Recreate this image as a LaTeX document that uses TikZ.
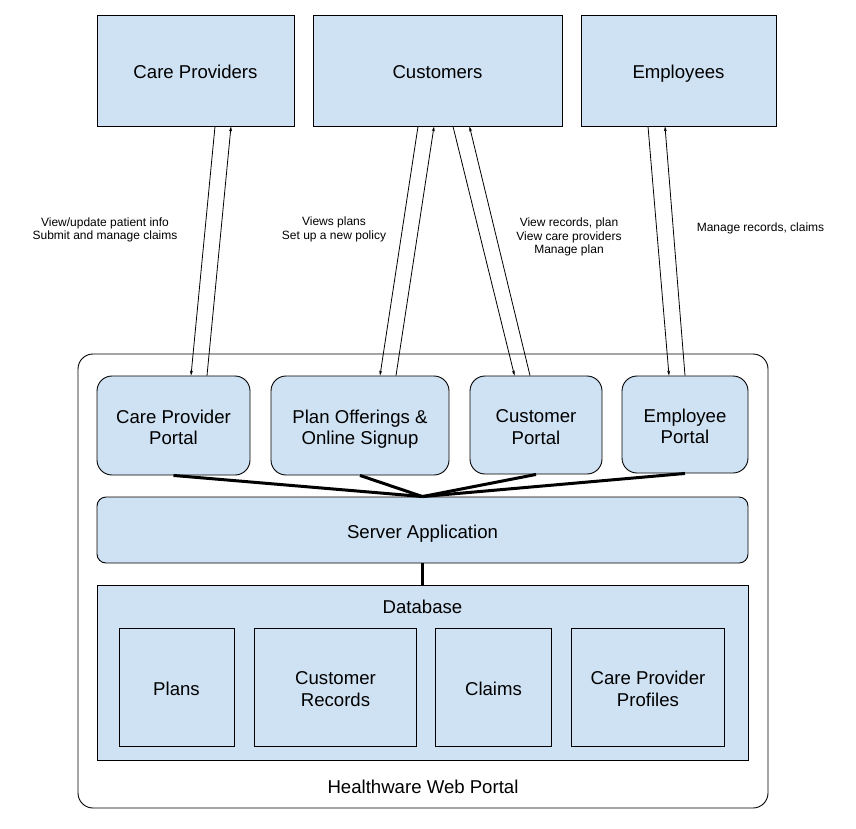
\documentclass[tikz,border=0pt]{standalone}
\usepackage{fontspec}
\setmainfont{Liberation Sans}
\usetikzlibrary{arrows.meta}
\definecolor{boxblue}{HTML}{CFE2F3}
\newcommand\mytopstrut{\rule{0pt}{20.7pt}}
\tikzset{
  bigtext/.style={font=\fontsize{18.6}{21.5}\selectfont, align=center,
    execute at begin node={\mytopstrut},
    execute at end node={\rule[-4pt]{0pt}{4pt}}},
  smalltext/.style={font=\fontsize{12}{13.6}\selectfont, align=center, inner sep=0pt},
  bluebox/.style={draw=black, line width=0.9pt, fill=boxblue, bigtext, inner sep=0pt},
  portalbox/.style={bluebox, rounded corners=15pt},
  flow/.style={line width=0.8pt, -{Stealth[length=5pt,width=3pt]}},
  thickline/.style={line width=3pt},
}
\begin{document}
\begin{tikzpicture}[x=1pt,y=-1pt]
\useasboundingbox (0,0) rectangle (856,828);
% outer container
\node[draw=black, line width=0.9pt, fill=white, rounded corners=15pt, minimum width=690pt, minimum height=454pt, inner sep=0pt] (outer) at (423,581) {};
% top actors
\node[bluebox, minimum width=197pt, minimum height=111pt] (cp) at (195.5,70.5) {Care Providers};
\node[bluebox, minimum width=249pt, minimum height=111pt] (cu) at (437.5,70.5) {Customers};
\node[bluebox, minimum width=195pt, minimum height=111pt] (em) at (678.5,70.5) {Employees};
% portals
\node[portalbox, minimum width=153pt, minimum height=99pt] (cpp) at (173.5,425.5) {\mytopstrut Care Provider\\Portal};
\node[portalbox, minimum width=178pt, minimum height=99pt] (pop) at (360,425.5) {\mytopstrut Plan Offerings \&\\Online Signup};
\node[portalbox, minimum width=132pt, minimum height=98pt] (cpo) at (536,425) {\mytopstrut Customer\\Portal};
\node[portalbox, minimum width=126pt, minimum height=97pt] (epo) at (685,424.5) {\mytopstrut Employee\\Portal};
% server
\node[bluebox, rounded corners=9pt, minimum width=651pt, minimum height=66pt] (sa) at (422.5,530) {Server Application};
% database
\node[bluebox, minimum width=651pt, minimum height=175pt] (db) at (422.5,672.5) {};
\node[bigtext, inner sep=0pt] (dbl) at (422.5,605.5) {Database};
\node[bluebox, minimum width=115pt, minimum height=118pt] (plans) at (176.5,687) {Plans};
\node[bluebox, minimum width=162pt, minimum height=118pt] (crec) at (335.5,687) {\mytopstrut Customer\\Records};
\node[bluebox, minimum width=116pt, minimum height=118pt] (claims) at (493.5,687) {Claims};
\node[bluebox, minimum width=153pt, minimum height=118pt] (cprof) at (648,687) {\mytopstrut Care Provider\\Profiles};
\node[bigtext, inner sep=0pt] (hwp) at (423,785.5) {Healthware Web Portal};
% arrows
\draw[flow] ([xshift=19.5pt]cp.south) -- ([xshift=17.5pt]cpp.north);
\draw[flow] ([xshift=33.5pt]cpp.north) -- ([xshift=35.5pt]cp.south);
\draw[flow] ([xshift=-19.5pt]cu.south) -- ([xshift=20pt]pop.north);
\draw[flow] ([xshift=36pt]pop.north) -- ([xshift=-3.5pt]cu.south);
\draw[flow] ([xshift=15.5pt]cu.south) -- ([xshift=-21.5pt]cpo.north);
\draw[flow] ([xshift=-6pt]cpo.north) -- ([xshift=32pt]cu.south);
\draw[flow] ([xshift=-30.5pt]em.south) -- ([xshift=-16pt]epo.north);
\draw[flow] (epo.north) -- ([xshift=-13.5pt]em.south);
% labels
\node[smalltext] (l1) at (105,230) {View/update patient info\\Submit and manage claims};
\node[smalltext] (l2) at (334,229.5) {Views plans\\Set up a new policy};
\node[smalltext] (l3) at (569,237) {View records, plan\\View care providers\\Manage plan};
\node[smalltext] (l4) at (760.5,228.5) {Manage records, claims};
% thick connectors
\draw[thickline] (cpp.south) -- (sa.north);
\draw[thickline] (pop.south) -- (sa.north);
\draw[thickline] (cpo.south) -- (sa.north);
\draw[thickline] (epo.south) -- (sa.north);
\draw[thickline] (sa.south) -- (db.north);
\end{tikzpicture}
\end{document}
